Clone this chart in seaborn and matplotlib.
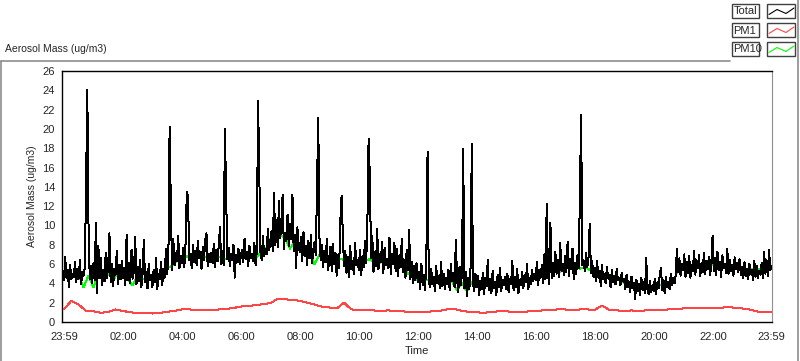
import numpy as np
import matplotlib
matplotlib.use('Agg')
import matplotlib.pyplot as plt
from matplotlib.lines import Line2D
from matplotlib.patches import Rectangle
import seaborn as sns

# Total aerosol mass, one value every 2.5 minutes from 23:59 (one row per hour)
total = [
    4.3, 6.7, 4.6, 5.4, 3.6, 5.9, 4.4, 5.0, 4.7, 6.2, 4.1, 5.5, 4.5, 6.4, 3.9, 5.2, 4.8, 5.7, 14.2, 24.0, 9.8, 4.4, 5.8, 4.0,
    6.1, 4.3, 10.3, 3.0, 7.9, 4.5, 6.6, 3.8, 5.4, 4.2, 7.2, 4.6, 5.8, 9.2, 4.1, 6.0, 3.7, 5.5, 4.9, 7.4, 3.9, 5.9, 4.4, 6.3,
    4.6, 5.6, 3.8, 9.0, 4.3, 6.1, 4.0, 7.5, 4.5, 5.3, 8.8, 3.9, 5.7, 4.2, 6.4, 3.6, 5.0, 8.5, 4.1, 5.2, 3.5, 6.0, 4.3, 4.9,
    3.6, 5.4, 4.1, 6.6, 3.4, 5.0, 4.4, 6.2, 3.8, 5.5, 4.6, 7.6, 5.0, 6.7, 20.2, 12.1, 5.4, 8.6, 5.9, 7.2, 6.3, 8.9, 5.6, 6.8,
    6.1, 7.7, 5.7, 8.2, 13.5, 12.9, 6.4, 7.1, 5.6, 8.0, 6.2, 7.4, 5.9, 8.4, 6.6, 7.3, 5.5, 7.8, 6.4, 8.5, 9.2, 5.8, 7.0, 6.2,
    7.2, 6.1, 8.1, 5.7, 7.5, 6.3, 7.9, 9.8, 6.0, 7.4, 5.9, 20.0, 13.3, 6.5, 7.7, 5.8, 7.1, 6.4, 8.0, 4.6, 6.9, 6.2, 7.6, 6.0,
    6.8, 7.5, 6.2, 8.6, 6.5, 7.3, 5.8, 7.9, 6.6, 7.0, 6.3, 8.2, 5.9, 7.4, 22.9, 15.5, 7.2, 6.4, 8.9, 6.8, 7.6, 7.0, 9.6, 7.5,
    8.2, 9.4, 7.3, 13.4, 8.0, 10.6, 7.8, 12.5, 8.7, 9.9, 13.2, 7.6, 9.2, 8.4, 11.1, 7.9, 10.2, 8.6, 13.2, 7.4, 9.0, 5.6, 9.8, 8.1,
    7.2, 8.8, 6.3, 9.3, 6.8, 7.9, 5.9, 8.4, 6.6, 9.0, 6.1, 7.5, 8.3, 6.9, 14.1, 21.1, 8.7, 6.4, 8.0, 5.7, 7.4, 6.2, 8.6, 5.4,
    6.5, 7.8, 5.3, 8.1, 6.0, 7.2, 4.8, 6.9, 5.6, 10.5, 13.1, 9.1, 5.8, 7.4, 5.1, 6.7, 4.7, 7.9, 5.5, 6.3, 5.0, 8.2, 5.9, 6.4,
    5.4, 7.5, 4.9, 6.8, 5.7, 8.4, 6.1, 10.2, 19.0, 15.0, 6.6, 8.9, 5.2, 7.3, 5.8, 9.6, 5.5, 7.0, 6.2, 8.3, 5.1, 7.7, 5.9, 6.5,
    5.6, 8.7, 5.0, 7.1, 6.0, 8.2, 5.3, 7.6, 4.8, 6.9, 5.7, 8.6, 5.2, 6.4, 4.6, 7.5, 5.4, 9.5, 4.4, 6.2, 4.0, 5.8, 4.3, 6.1,
    4.1, 5.2, 3.4, 6.0, 3.8, 4.9, 3.3, 6.6, 17.6, 4.4, 3.6, 5.5, 3.9, 4.7, 3.2, 5.8, 4.0, 4.8, 3.5, 6.2, 3.7, 5.0, 3.4, 4.6,
    3.9, 5.4, 3.3, 6.0, 4.2, 5.1, 3.6, 8.5, 4.5, 3.1, 5.7, 3.8, 4.9, 17.9, 3.5, 5.2, 2.7, 4.6, 3.4, 5.6, 18.4, 4.0, 3.2, 5.0,
    3.6, 4.8, 2.8, 4.3, 3.4, 5.1, 2.9, 4.6, 3.7, 6.4, 3.3, 4.5, 3.0, 5.3, 3.5, 4.2, 2.8, 4.9, 3.6, 5.6, 3.2, 4.4, 3.8, 4.7,
    3.4, 5.0, 3.1, 4.5, 3.9, 6.3, 3.3, 4.7, 3.6, 5.5, 3.0, 4.4, 3.8, 5.2, 3.5, 4.9, 4.1, 6.0, 3.4, 4.6, 3.9, 5.4, 4.2, 5.0,
    4.3, 6.2, 3.8, 5.4, 4.6, 5.9, 4.0, 7.0, 4.4, 12.2, 5.1, 3.9, 10.3, 4.5, 6.1, 4.8, 7.3, 5.0, 6.4, 4.7, 8.2, 5.3, 6.0, 4.9,
    6.8, 5.2, 8.3, 4.8, 6.5, 5.5, 7.6, 4.4, 6.1, 5.0, 6.9, 5.6, 13.0, 21.5, 5.9, 6.4, 5.3, 7.2, 5.7, 6.6, 10.2, 5.1, 6.3, 4.7,
    5.6, 4.2, 6.3, 4.6, 5.3, 3.7, 5.9, 4.4, 5.0, 4.0, 5.7, 4.5, 4.9, 3.6, 5.4, 4.1, 4.8, 3.9, 5.5, 4.3, 4.6, 3.8, 5.1, 4.2,
    4.5, 3.4, 4.9, 3.6, 4.2, 3.1, 4.7, 3.5, 4.0, 2.4, 4.4, 3.2, 3.9, 2.8, 4.6, 3.3, 4.1, 3.0, 6.6, 3.4, 2.9, 4.3, 3.1, 3.8,
    3.2, 4.5, 2.9, 4.1, 3.5, 4.8, 5.6, 3.3, 4.4, 3.0, 4.7, 3.6, 4.2, 3.4, 5.0, 3.8, 4.6, 4.0, 4.9, 7.6, 5.2, 6.6, 4.8, 6.0,
    5.4, 7.0, 4.7, 6.2, 5.1, 6.8, 4.6, 5.9, 5.3, 7.4, 4.9, 6.4, 5.6, 6.9, 4.8, 6.1, 5.2, 7.2, 5.0, 6.3, 5.5, 6.7, 4.9, 6.0,
    8.9, 5.3, 6.6, 4.9, 7.3, 5.4, 6.2, 4.7, 6.9, 5.6, 6.0, 5.1, 7.6, 5.0, 6.4, 5.3, 5.9, 4.8, 6.7, 5.5, 6.1, 5.2, 6.5, 4.9,
    5.7, 4.5, 6.2, 4.8, 5.5, 4.4, 6.0, 5.0, 5.4, 4.3, 6.3, 4.7, 5.8, 4.6, 5.3, 4.9, 6.1, 4.5, 7.3, 5.0, 6.4, 4.8, 7.5, 5.4,
    5.8,
]

# PM10, one value every 10 minutes (one row per hour), mostly hidden under the total trace
pm10 = [
    5.0, 4.6, 4.7, 4.8, 3.6, 4.8,
    3.6, 5.0, 4.7, 5.0, 4.4, 5.0,
    4.8, 4.4, 3.8, 4.9, 4.4, 4.6,
    4.2, 4.6, 4.7, 5.6, 5.8, 6.4,
    6.5, 6.8, 6.6, 6.8, 6.9, 6.7,
    6.6, 6.8, 6.7, 6.5, 6.7, 6.6,
    6.8, 6.7, 6.9, 6.6, 7.2, 7.5,
    8.6, 8.8, 9.0, 8.7, 7.6, 8.4,
    7.6, 7.4, 7.2, 6.0, 7.0, 6.6,
    6.3, 6.0, 6.6, 6.4, 6.1, 6.0,
    6.0, 6.2, 6.5, 6.3, 6.1, 6.3,
    6.1, 6.2, 5.8, 5.9, 5.0, 4.9,
    4.3, 4.2, 4.4, 4.3, 4.2, 4.1,
    4.3, 4.2, 3.3, 4.0, 3.2, 4.1,
    3.8, 3.9, 3.8, 3.9, 3.7, 3.9,
    4.0, 4.1, 4.3, 4.0, 4.2, 4.4,
    4.9, 5.0, 4.9, 5.2, 5.3, 5.2,
    5.6, 5.7, 5.8, 5.5, 5.7, 5.4,
    5.0, 4.8, 4.6, 4.7, 4.4, 4.5,
    4.0, 3.9, 3.7, 3.8, 3.3, 3.6,
    3.7, 3.8, 3.8, 4.0, 4.1, 5.5,
    5.8, 5.7, 5.9, 5.8, 5.6, 5.8,
    5.9, 5.8, 5.7, 5.8, 5.6, 5.7,
    5.4, 5.3, 5.5, 5.4, 5.6, 5.8,
    5.8,
]

# PM1, one value every 15 minutes (one row per 2 hours)
pm1 = [
    1.3, 2.2, 1.8, 1.15, 1.1, 0.95, 1.05, 1.3,
    1.15, 1.0, 0.95, 0.9, 0.88, 0.95, 1.05, 1.15,
    1.3, 1.3, 1.25, 1.2, 1.2, 1.3, 1.35, 1.45,
    1.6, 1.65, 1.75, 1.85, 1.95, 2.4, 2.35, 2.3,
    2.2, 2.0, 1.8, 1.6, 1.5, 1.4, 2.0, 1.3,
    1.25, 1.2, 1.2, 1.15, 1.2, 1.15, 1.1, 1.05,
    1.0, 1.05, 1.1, 1.15, 1.3, 1.35, 1.15, 1.05,
    1.0, 0.95, 1.05, 1.1, 1.1, 1.05, 1.0, 1.1,
    1.15, 1.2, 1.25, 1.3, 1.3, 1.25, 1.3, 1.3,
    1.25, 1.7, 1.25, 1.2, 1.15, 1.2, 1.15, 1.2,
    1.2, 1.25, 1.3, 1.35, 1.4, 1.45, 1.4, 1.45,
    1.45, 1.4, 1.6, 1.45, 1.4, 1.3, 1.1, 1.0,
    1.0,
]

tick_labels = ['23:59', '02:00', '04:00', '06:00', '08:00', '10:00', '12:00',
               '14:00', '16:00', '18:00', '20:00', '22:00', '23:59']
# minutes after 23:59
tick_minutes = [0, 121, 241, 361, 481, 601, 721, 841, 961, 1081, 1201, 1321, 1440]

t_total = np.arange(len(total)) * 2.5
t_pm10 = np.arange(len(pm10)) * 10
t_pm1 = np.arange(len(pm1)) * 15

sns.set_style('white')
plt.rcParams['font.family'] = ['Liberation Sans', 'DejaVu Sans']
plt.rcParams['font.size'] = 7.5

W, H = 800, 361
fig = plt.figure(figsize=(W / 100, H / 100), dpi=100)
ax = fig.add_axes([62 / W, 39 / H, 710 / W, 251 / H])

lw = 0.72  # one pixel
sns.lineplot(x=t_pm10, y=pm10, ax=ax, color='#00ff00', linewidth=lw, zorder=2, antialiased=False)
sns.lineplot(x=t_total, y=total, ax=ax, color='black', linewidth=lw, zorder=3, antialiased=False)
sns.lineplot(x=t_pm1, y=pm1, ax=ax, color='#ff4545', linewidth=lw, zorder=4, antialiased=False)

ax.set_xlim(-4, 1441)
ax.set_ylim(0, 26)
ax.set_yticks(range(0, 27, 2))
ax.set_xticks(tick_minutes)
ax.set_xticklabels(tick_labels)
ax.set_xticks([m for m in range(1, 1440, 15) if m not in tick_minutes], minor=True)
ax.tick_params(axis='x', which='major', direction='out', length=5, width=1, pad=2,
               color='black', labelsize=8)
ax.tick_params(axis='x', which='minor', direction='out', length=3, width=1, color='black')
ax.tick_params(axis='y', direction='out', length=3, width=1, pad=2, color='black', labelsize=8)
ax.set_xlabel('Time', labelpad=3, fontsize=8)
ax.set_ylabel('Aerosol Mass (ug/m3)', labelpad=4)

for side in ['left', 'bottom', 'top']:
    ax.spines[side].set_color('black')
    ax.spines[side].set_linewidth(1)
ax.spines['right'].set_color('#909090')


def px(x, y):
    return x / W, 1 - y / H


# outer frame of the graph panel
gray = '#8c8c8c'
for (x0, y0), (x1, y1) in [((1, 61), (730, 61)), ((1, 61), (1, 361)), ((798, 0), (798, 361))]:
    a, b = px(x0, y0)
    c, d = px(x1, y1)
    fig.add_artist(Line2D([a, c], [b, d], color=gray, linewidth=1.2))

fig.text(5 / W, 1 - 49 / H, 'Aerosol Mass (ug/m3)', va='center', ha='left', fontsize=7.5)

# legend (plot names and line samples)
legend_names = ['Total', 'PM1', 'PM10']
legend_colors = ['black', '#ff4545', '#00ff00']
for i, (name, col) in enumerate(zip(legend_names, legend_colors)):
    top = 4 + 19 * i
    x0, y0 = px(732, top + 14)
    fig.add_artist(Rectangle((x0, y0), 27 / W, 14 / H, transform=fig.transFigure,
                             facecolor='white', edgecolor='#404040', linewidth=1))
    fig.text(733.5 / W, 1 - (top + 7.5) / H, name, ha='left', va='center', fontsize=8)
    x0, y0 = px(767, top + 14)
    fig.add_artist(Rectangle((x0, y0), 28 / W, 14 / H, transform=fig.transFigure,
                             facecolor='white', edgecolor='#404040', linewidth=1))
    zx = [769, 777, 786, 794]
    zy = [top + 10.5, top + 5.5, top + 9.5, top + 4]
    fig.add_artist(Line2D([v / W for v in zx], [1 - v / H for v in zy], color=col, linewidth=0.8))

fig.savefig('out.png', dpi=100)
